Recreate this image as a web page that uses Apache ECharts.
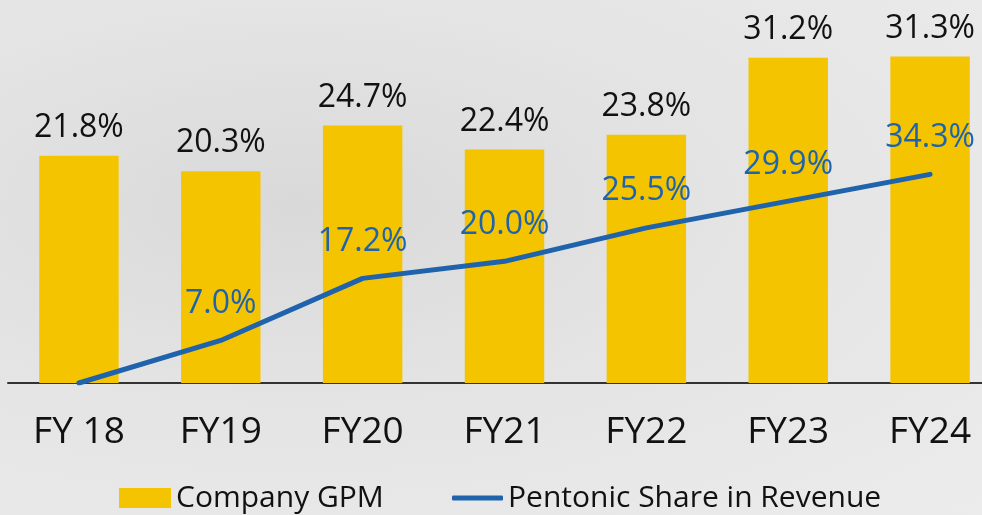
<!DOCTYPE html>
<html>
<head>
<meta charset="utf-8">
<script src="https://cdn.jsdelivr.net/npm/echarts@6/dist/echarts.min.js"></script>
<style>
  html, body { margin: 0; padding: 0; }
  body {
    background: radial-gradient(ellipse at 30% 40%, #d9d9d9 0%, #e4e4e4 45%, #ececec 100%);
  }
  #mychart { width: 982px; height: 515px; }
</style>
</head>
<body>
<div id="mychart"></div>
<script>
// categories and values
const years = ["FY 18", "FY19", "FY20", "FY21", "FY22", "FY23", "FY24"];
const gpm = [21.8, 20.3, 24.7, 22.4, 23.8, 31.2, 31.3];          // Company GPM (%)
const pentonic = [0, 7.0, 17.2, 20.0, 25.5, 29.9, 34.3];         // Pentonic share (%)

const yellow = "#F5C400";
const blue = "#1F63AC";
const hand = "'Open Sans', 'DejaVu Sans', sans-serif";

const myChart = echarts.init(document.getElementById("mychart"));

const option = {
  backgroundColor: "transparent",
  animation: false,
  grid: { left: 8, width: 993, top: 18, bottom: 132, outerBoundsMode: "none", containLabel: false },
  legend: [
    {
      data: ["Company GPM"],
      left: 114, top: 478,
      itemWidth: 52, itemHeight: 20,
      icon: "rect",
      textStyle: { fontFamily: hand, fontSize: 30, color: "#111" }
    },
    {
      data: ["Pentonic Share in Revenue"],
      left: 447, top: 478,
      itemWidth: 51, itemHeight: 5,
      icon: "roundRect",
      textStyle: { fontFamily: hand, fontSize: 30, color: "#111" }
    }
  ],
  xAxis: {
    type: "category",
    data: years,
    axisTick: { show: false },
    axisLine: { show: true, lineStyle: { color: "#333", width: 2 } },
    axisLabel: { fontFamily: hand, fontSize: 37, color: "#111", margin: 31 }
  },
  yAxis: [
    { type: "value", min: 0, max: 35, show: false, splitLine: { show: false } },
    { type: "value", min: 0, max: 60, show: false, splitLine: { show: false } }
  ],
  series: [
    {
      name: "Company GPM",
      type: "bar",
      barWidth: "56%",
      data: gpm,
      itemStyle: { color: yellow },
      label: {
        show: true,
        position: "top",
        distance: 12,
        fontFamily: hand,
        fontSize: 32,
        color: "#111",
        formatter: p => p.value.toFixed(1) + "%"
      }
    },
    {
      name: "Pentonic Share in Revenue",
      type: "line",
      yAxisIndex: 1,
      data: pentonic.map((v, i) => i === 0 ? { value: v, label: { show: false } } : v),
      symbol: "circle",
      symbolSize: 1,
      showSymbol: true,
      lineStyle: { color: blue, width: 5, cap: "round", join: "round" },
      itemStyle: { color: blue },
      label: {
        show: true,
        position: "top",
        distance: 20,
        fontFamily: hand,
        fontSize: 32,
        color: blue,
        formatter: p => p.value.toFixed(1) + "%"
      },
      z: 3
    }
  ]
};

myChart.setOption(option);
window.addEventListener("resize", () => myChart.resize());
</script>
</body>
</html>
